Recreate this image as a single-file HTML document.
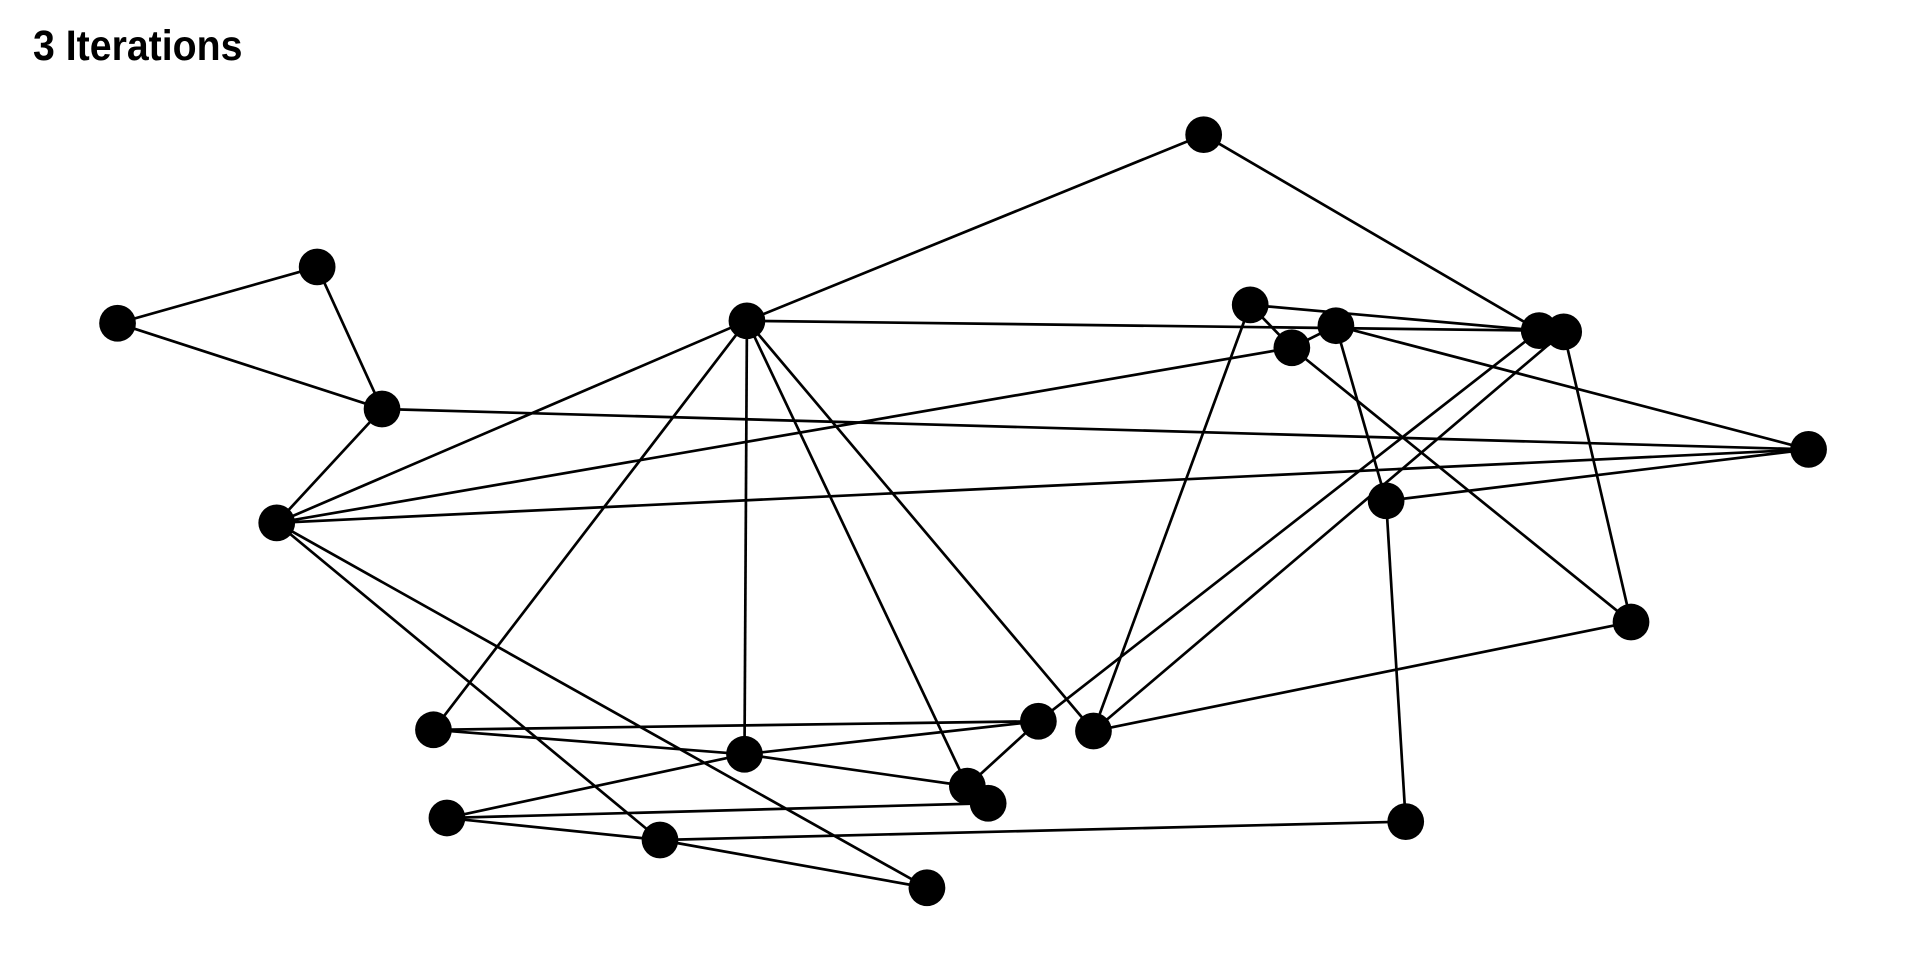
<!DOCTYPE html>
<html><head><meta charset="utf-8"><style>
html,body{margin:0;padding:0;background:#fff;width:1920px;height:960px;overflow:hidden}
svg{display:block}
</style></head><body>
<svg width="1920" height="960" viewBox="0 0 1568 784" xmlns="http://www.w3.org/2000/svg">
<text x="27" y="49" font-family="'Liberation Sans Narrow','Liberation Sans',sans-serif" font-weight="bold" font-size="35" fill="#000" textLength="171" lengthAdjust="spacingAndGlyphs">3 Iterations</text>
<g stroke="#000" stroke-width="2.2" fill="none">
<line x1="96" y1="264" x2="259" y2="218"/>
<line x1="259" y1="218" x2="312" y2="334"/>
<line x1="96" y1="264" x2="312" y2="334"/>
<line x1="312" y1="334" x2="226" y2="427"/>
<line x1="312" y1="334" x2="1477" y2="367"/>
<line x1="610" y1="262" x2="983" y2="110"/>
<line x1="983" y1="110" x2="1257" y2="270"/>
<line x1="610" y1="262" x2="1257" y2="270"/>
<line x1="610" y1="262" x2="226" y2="427"/>
<line x1="610" y1="262" x2="354" y2="596"/>
<line x1="610" y1="262" x2="608" y2="616"/>
<line x1="610" y1="262" x2="790" y2="642"/>
<line x1="610" y1="262" x2="893" y2="597"/>
<line x1="1021" y1="249" x2="1257" y2="270"/>
<line x1="1021" y1="249" x2="1055" y2="284"/>
<line x1="1021" y1="249" x2="893" y2="597"/>
<line x1="1091" y1="266" x2="1477" y2="367"/>
<line x1="1091" y1="266" x2="1132" y2="409"/>
<line x1="1091" y1="266" x2="1055" y2="284"/>
<line x1="1055" y1="284" x2="1332" y2="508"/>
<line x1="1055" y1="284" x2="226" y2="427"/>
<line x1="226" y1="427" x2="1477" y2="367"/>
<line x1="226" y1="427" x2="539" y2="686"/>
<line x1="226" y1="427" x2="757" y2="725"/>
<line x1="1257" y1="270" x2="848" y2="589"/>
<line x1="1277" y1="271" x2="893" y2="597"/>
<line x1="1277" y1="271" x2="1332" y2="508"/>
<line x1="1477" y1="367" x2="1132" y2="409"/>
<line x1="1132" y1="409" x2="1148" y2="671"/>
<line x1="1332" y1="508" x2="893" y2="597"/>
<line x1="354" y1="596" x2="848" y2="589"/>
<line x1="354" y1="596" x2="608" y2="616"/>
<line x1="608" y1="616" x2="848" y2="589"/>
<line x1="608" y1="616" x2="790" y2="642"/>
<line x1="848" y1="589" x2="790" y2="642"/>
<line x1="365" y1="668" x2="608" y2="616"/>
<line x1="365" y1="668" x2="807" y2="656"/>
<line x1="365" y1="668" x2="539" y2="686"/>
<line x1="539" y1="686" x2="1148" y2="671"/>
<line x1="539" y1="686" x2="757" y2="725"/>
</g>
<g fill="#000">
<circle cx="983" cy="110" r="15"/>
<circle cx="259" cy="218" r="15"/>
<circle cx="96" cy="264" r="15"/>
<circle cx="610" cy="262" r="15"/>
<circle cx="312" cy="334" r="15"/>
<circle cx="226" cy="427" r="15"/>
<circle cx="1021" cy="249" r="15"/>
<circle cx="1091" cy="266" r="15"/>
<circle cx="1055" cy="284" r="15"/>
<circle cx="1257" cy="270" r="15"/>
<circle cx="1277" cy="271" r="15"/>
<circle cx="1477" cy="367" r="15"/>
<circle cx="1132" cy="409" r="15"/>
<circle cx="1332" cy="508" r="15"/>
<circle cx="354" cy="596" r="15"/>
<circle cx="608" cy="616" r="15"/>
<circle cx="848" cy="589" r="15"/>
<circle cx="893" cy="597" r="15"/>
<circle cx="790" cy="642" r="15"/>
<circle cx="807" cy="656" r="15"/>
<circle cx="365" cy="668" r="15"/>
<circle cx="539" cy="686" r="15"/>
<circle cx="1148" cy="671" r="15"/>
<circle cx="757" cy="725" r="15"/>
</g>
</svg>
</body></html>
